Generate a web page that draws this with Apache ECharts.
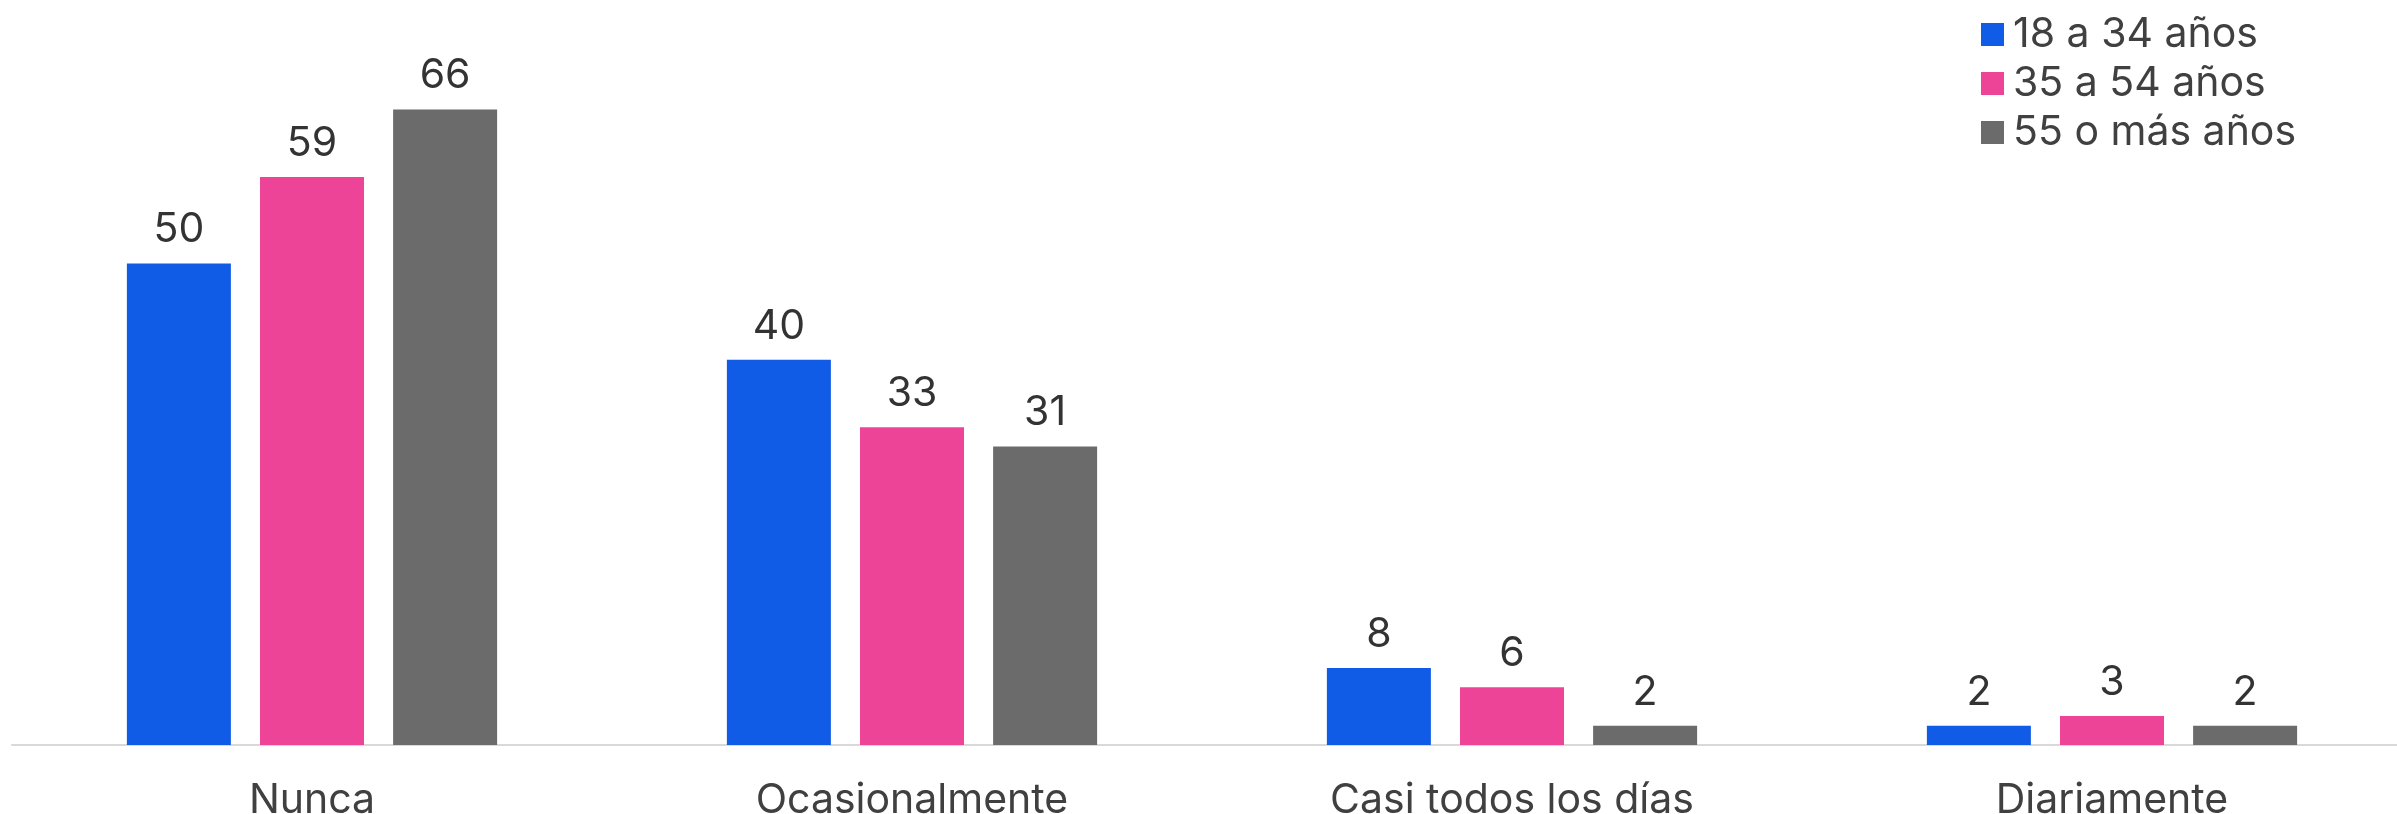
<!DOCTYPE html>
<html>
<head>
<meta charset="utf-8">
<script src="https://cdn.jsdelivr.net/npm/echarts@6/dist/echarts.min.js"></script>
<style>
html,body{margin:0;padding:0;background:#fff;}
#chart{width:2397px;height:814px;}
</style>
</head>
<body>
<div id="chart"></div>
<script>
const categories = ['Nunca', 'Ocasionalmente', 'Casi todos los días', 'Diariamente'];
const seriesNames = ['18 a 34 años', '35 a 54 años', '55 o más años'];
const young = [50, 40, 8, 2];
const middle = [59, 33, 6, 3];
const older = [66, 31, 2, 2];
const colors = ['#105CE6', '#EE4498', '#6B6B6B'];

const chart = echarts.init(document.getElementById('chart'), null, {renderer: 'canvas'});
const font = 'Inter, "Noto Sans", sans-serif';
const mk = (name, data, color) => ({
  name: name,
  type: 'bar',
  data: data,
  barWidth: 104,
  barGap: '28%',
  itemStyle: {color: color},
  label: {
    show: true,
    position: 'top',
    distance: 13,
    color: '#333333',
    fontFamily: font,
    fontSize: 41
  }
});
chart.setOption({
  animation: false,
  backgroundColor: '#ffffff',
  color: colors,
  legend: {
    orient: 'vertical',
    left: 1976,
    top: 9,
    itemWidth: 23,
    itemHeight: 23,
    itemGap: 8,
    icon: 'rect',
    textStyle: {color: '#404040', fontFamily: font, fontSize: 41, padding: [0, 0, 0, 4]},
    data: seriesNames
  },
  grid: {left: 12, right: -15, top: 71, bottom: 69, containLabel: false, outerBoundsMode: 'none'},
  xAxis: {
    type: 'category',
    data: categories,
    axisLine: {show: true, lineStyle: {color: '#D9D9D9', width: 2}},
    axisTick: {show: false},
    axisLabel: {color: '#404040', fontFamily: font, fontSize: 41, margin: 35}
  },
  yAxis: {
    type: 'value',
    min: 0,
    max: 70,
    show: false,
    splitLine: {show: false}
  },
  series: [
    mk(seriesNames[0], young, colors[0]),
    mk(seriesNames[1], middle, colors[1]),
    mk(seriesNames[2], older, colors[2])
  ]
});
</script>
</body>
</html>
